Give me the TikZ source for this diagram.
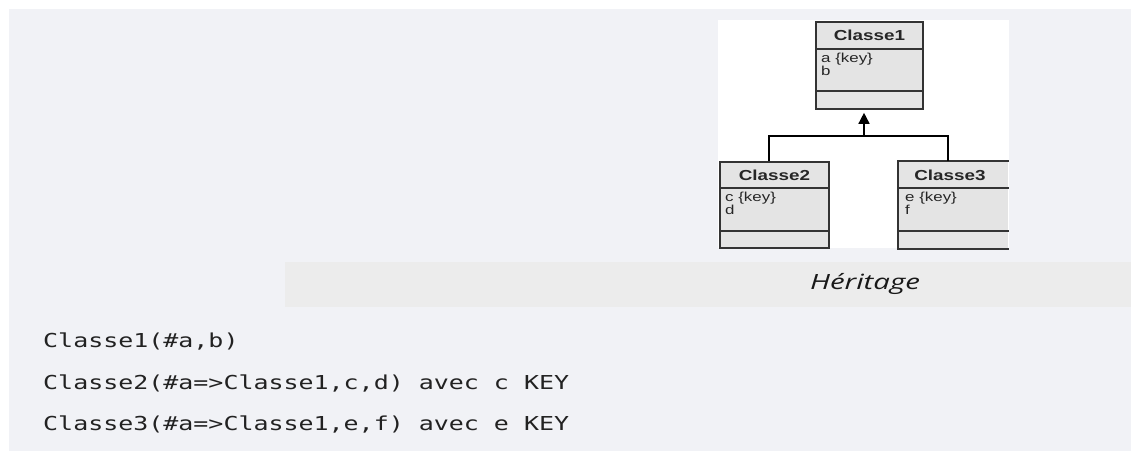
\documentclass[tikz,border=0pt]{standalone}
\usepackage{fontspec}
\usetikzlibrary{calc,arrows.meta}
\newfontfamily\umlfont[FakeStretch=1.3]{Liberation Sans}
\newfontfamily\codefont[FakeStretch=1.3]{DejaVu Sans Mono}
\newfontfamily\capfont[FakeStretch=1.4]{Open Sans}
\definecolor{panel}{HTML}{F1F2F6}
\definecolor{band}{HTML}{ECECEC}
\definecolor{boxfill}{HTML}{E4E4E4}
\definecolor{boxline}{HTML}{333333}
\definecolor{codetext}{HTML}{222222}
\tikzset{
  umlbox/.style={fill=boxfill, draw=boxline, line width=1.6pt, inner sep=0pt, minimum width=109pt, minimum height=86pt},
  umlhead/.style={font=\umlfont\bfseries\fontsize{14.5}{16}\selectfont, text=black!85, inner sep=0pt},
  umlattr/.style={font=\umlfont\fontsize{13}{15}\selectfont, text=black!85, inner sep=0pt, anchor=base west},
  sepline/.style={draw=boxline, line width=1.6pt},
  conn/.style={draw=black, line width=1.5pt},
  codeline/.style={font=\codefont\fontsize{19.2}{22}\selectfont, text=codetext, inner sep=0pt, anchor=base west},
  caption/.style={font=\capfont\itshape\fontsize{21}{24}\selectfont, text=black!90, inner sep=0pt}
}
\begin{document}
\begin{tikzpicture}[x=1pt,y=-1pt]
\useasboundingbox (0,0) rectangle (1131,451);
% panel
\fill[panel] (9,9) rectangle (1131,451);
% white picture area
\fill[white] (718,20) rectangle (1009,248);
% caption band
\fill[band] (285,262) rectangle (1131,307);
\node[caption] (cap) at (865,284) {Héritage};

% Classe1
\node[umlbox, minimum width=107pt, minimum height=87pt] (c1) at (869.5,65.5) {};
\draw[sepline] (c1.west |- 0,49) -- (c1.east |- 0,49);
\draw[sepline] (c1.west |- 0,91) -- (c1.east |- 0,91);
\node[umlhead] (c1h) at (869.5,35.5) {Classe1};
\node[umlattr] (c1a) at (821,62) {a \{key\}};
\node[umlattr] (c1b) at (821,75) {b};

% Classe2
\node[umlbox] (c2) at (774.5,205) {};
\draw[sepline] (c2.west |- 0,188) -- (c2.east |- 0,188);
\draw[sepline] (c2.west |- 0,231) -- (c2.east |- 0,231);
\node[umlhead] (c2h) at (774.5,175) {Classe2};
\node[umlattr] (c2a) at (725,201) {c \{key\}};
\node[umlattr] (c2b) at (725,214) {d};

% Classe3 (cropped on the right)
\node[umlbox, draw=none] (c3) at (953.5,205) {};
\draw[sepline] (c3.north east) -- (c3.north west) -- (c3.south west) -- (c3.south east);
\draw[sepline] (c3.west |- 0,188) -- (c3.east |- 0,188);
\draw[sepline] (c3.west |- 0,231) -- (c3.east |- 0,231);
\node[umlhead] (c3h) at (950,175) {Classe3};
\node[umlattr] (c3a) at (905,201) {e \{key\}};
\node[umlattr] (c3b) at (905,214) {f};

% inheritance connector
\coordinate (j) at ($(c1.south)+(-5.5,26)$);
\draw[conn] ($(c2.north)+(-5.5,0)$) |- (j) -| ($(c3.north)+(-5.5,0)$);
\draw[conn, -{Triangle[width=11pt,length=11pt]}] (j) -- ($(c1.south)+(-5.5,3)$);

% code lines
\node[codeline] (l1) at (43,347) {Classe1(\#a,b)};
\node[codeline] (l2) at (43,389) {Classe2(\#a=>Classe1,c,d) avec c KEY};
\node[codeline] (l3) at (43,430) {Classe3(\#a=>Classe1,e,f) avec e KEY};
\end{tikzpicture}
\end{document}
